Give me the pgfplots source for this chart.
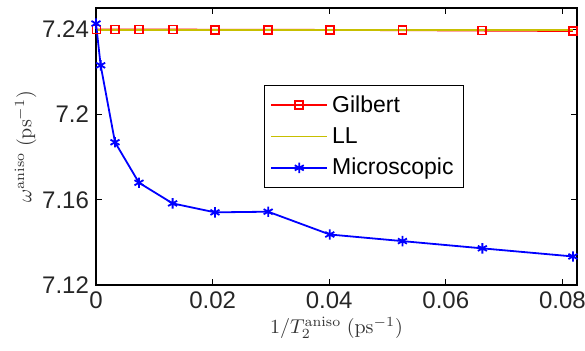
\documentclass[border=0pt]{standalone}
\usepackage[no-math]{fontspec}
\setmainfont{Liberation Sans}
\usepackage{pgfplots}
\pgfplotsset{compat=1.18}
\definecolor{llc}{rgb}{0.78,0.75,0}
\begin{document}
\begin{tikzpicture}
\begin{axis}[
  name=ax,
  scale only axis,
  width=240.5pt, height=138.5pt,
  xmin=0, xmax=0.0825, ymin=7.12, ymax=7.25,
  xtick={0,0.02,0.04,0.06,0.08},
  ytick={7.12,7.16,7.2,7.24},
  tick align=inside,
  tick pos=both,
  major tick length=3pt,
  axis line style={line width=0.7pt},
  every tick/.style={black, line width=0.5pt},
  /pgf/number format/assume math mode=true,
  /pgf/number format/fixed,
  /pgf/number format/precision=2,
  scaled x ticks=false,
  ticklabel style={font=\fontsize{12}{13}\selectfont, text=black!85},
  xlabel={$1/T_2^{\mathrm{aniso}}\ (\mathrm{ps}^{-1})$},
  ylabel={$\omega^{\mathrm{aniso}}\ (\mathrm{ps}^{-1})$},
  label style={font=\fontsize{10}{12}\selectfont, text=black!80},
  xlabel style={yshift=3pt},
  ylabel style={yshift=-4pt},
  legend style={at={(0.349,0.722)}, anchor=north west, font=\fontsize{11.5}{13}\selectfont, draw=black, line width=0.5pt, row sep=2pt, inner xsep=3pt, inner ysep=3pt},
  legend cell align=left,
  legend image code/.code={\draw[mark repeat=2, mark phase=2, #1] plot coordinates {(0pt,0pt) (14pt,0pt) (28pt,0pt)};},
]
\addplot[red, line width=0.9pt, mark=square, mark size=2pt, mark options={solid}] coordinates {
(0.0001,7.2399) (0.00326,7.2399) (0.00737,7.2399) (0.01314,7.2399) (0.0204,7.2398)
(0.02953,7.2398) (0.0401,7.2397) (0.05256,7.2396) (0.06627,7.2394) (0.0818,7.2392)};
\addlegendentry{Gilbert}
\addplot[llc, line width=0.9pt] coordinates {
(0.0001,7.2398) (0.00326,7.2398) (0.00737,7.2398) (0.01314,7.2398) (0.0204,7.2398)
(0.02953,7.2398) (0.0401,7.2398) (0.05256,7.2398) (0.06627,7.2398) (0.0818,7.2398)};
\addlegendentry{LL}
\addplot[blue, line width=0.9pt, mark=asterisk, mark size=2.6pt, mark options={solid, line width=0.9pt}] coordinates {
(0.0000,7.2427) (0.0008,7.2231) (0.00326,7.1870) (0.00737,7.1680) (0.01314,7.1583)
(0.0204,7.1541) (0.02953,7.1544) (0.0401,7.1437) (0.05256,7.1406) (0.06627,7.1372) (0.0818,7.1334)};
\addlegendentry{Microscopic}
\end{axis}
\pgfresetboundingbox
\path ([shift={(-48pt,-32.5pt)}]ax.south west) rectangle ([shift={(4pt,4pt)}]ax.north east);
\end{tikzpicture}
\end{document}
